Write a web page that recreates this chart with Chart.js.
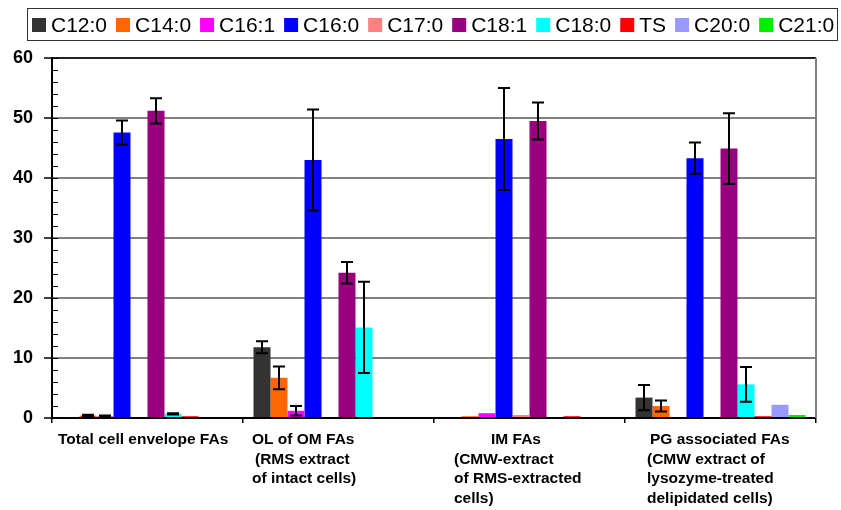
<!DOCTYPE html>
<html>
<head>
<meta charset="utf-8">
<title>Fatty acid composition</title>
<script src="https://cdn.jsdelivr.net/npm/chart.js@4.4.1/dist/chart.umd.min.js"></script>
<style>
  html, body { margin: 0; padding: 0; background: #fff; }
</style>
</head>
<body>
<canvas id="faChart" width="841" height="510"></canvas>
<script>
// categories (x groups), each one a list of label lines
const categories = [
  ["Total cell envelope FAs"],
  ["OL of OM FAs", "(RMS extract", "of intact cells)"],
  ["IM FAs", "(CMW-extract", "of RMS-extracted", "cells)"],
  ["PG associated FAs", "(CMW extract of", "lysozyme-treated", "delipidated cells)"]
];
const fattyAcids = ["C12:0", "C14:0", "C16:1", "C16:0", "C17:0", "C18:1", "C18:0", "TS", "C20:0", "C21:0"];

// values (%) per group
const c12_0 = [0.15, 11.8, 0, 3.4];
const c14_0 = [0.4, 6.7, 0.3, 2.0];
const c16_1 = [0.25, 1.2, 0.8, 0];
const c16_0 = [47.6, 43.0, 46.5, 43.3];
const c17_0 = [0, 0, 0.5, 0];
const c18_1 = [51.2, 24.2, 49.5, 44.9];
const c18_0 = [0.7, 15.1, 0, 5.6];
const ts    = [0.3, 0, 0.3, 0.3];
const c20_0 = [0, 0, 0, 2.2];
const c21_0 = [0, 0, 0, 0.5];

// error bars (+/-)
const c12_0Err = [0, 1.0, 0, 2.1];
const c14_0Err = [0.15, 1.9, 0, 0.9];
const c16_1Err = [0.15, 0.8, 0, 0];
const c16_0Err = [2.0, 8.4, 8.5, 2.6];
const c18_1Err = [2.1, 1.8, 3.1, 5.9];
const c18_0Err = [0.1, 7.6, 0, 2.9];
const noErr    = [0, 0, 0, 0];

const yTicks = [0, 10, 20, 30, 40, 50, 60];

// style
const barColors = ["#333333", "#ff6600", "#ff00ff", "#0000ff", "#ff8080", "#990080", "#00ffff", "#ff0000", "#9999ff", "#00ee00"];
const labelDx = [6, 9, 20, 22];               // label block left, from group edge
const lineIndent = [[0], [0, 3, 0], [37, 0, 0, 0], [3, 0, 0, 0]];
const FONT = '"Liberation Sans", Arial, sans-serif';

const seriesValues = [c12_0, c14_0, c16_1, c16_0, c17_0, c18_1, c18_0, ts, c20_0, c21_0];
const seriesErrors = [c12_0Err, c14_0Err, c16_1Err, c16_0Err, noErr, c18_1Err, c18_0Err, noErr, noErr, noErr];

const datasets = fattyAcids.map((name, i) => ({
  label: name,
  data: seriesValues[i],
  errors: seriesErrors[i],
  backgroundColor: barColors[i],
  borderWidth: 0,
  categoryPercentage: 0.89,
  barPercentage: 1.0
}));

// error bars drawn from the y scale
const errorBars = {
  id: "errorBars",
  afterDatasetsDraw(chart) {
    const ctx = chart.ctx;
    const ys = chart.scales.y;
    ctx.save();
    ctx.strokeStyle = "#000";
    ctx.lineWidth = 2;
    chart.data.datasets.forEach((ds, i) => {
      const meta = chart.getDatasetMeta(i);
      meta.data.forEach((bar, j) => {
        const e = ds.errors[j];
        if (!e) return;
        const v = ds.data[j];
        const top = ys.getPixelForValue(v + e);
        const bot = ys.getPixelForValue(Math.max(0, v - e));
        ctx.beginPath();
        ctx.moveTo(bar.x, top); ctx.lineTo(bar.x, bot);
        ctx.moveTo(bar.x - 6, top); ctx.lineTo(bar.x + 6, top);
        ctx.moveTo(bar.x - 6, bot); ctx.lineTo(bar.x + 6, bot);
        ctx.stroke();
      });
    });
    ctx.restore();
  }
};

// frame, minor ticks, category labels and boxed legend
const extras = {
  id: "extras",
  afterDraw(chart) {
    const ctx = chart.ctx;
    const area = chart.chartArea;
    const xs = chart.scales.x;
    const ys = chart.scales.y;
    ctx.save();

    // right border
    ctx.strokeStyle = "#808080";
    ctx.lineWidth = 2;
    ctx.beginPath();
    ctx.moveTo(area.right, area.top);
    ctx.lineTo(area.right, area.bottom);
    ctx.stroke();

    // inner ticks on the value axis
    ctx.strokeStyle = "#000";
    ctx.lineWidth = 1;
    for (let v = ys.min; v <= ys.max; v += 2) {
      const y = Math.round(ys.getPixelForValue(v)) + 0.5;
      ctx.beginPath();
      ctx.moveTo(area.left, y);
      ctx.lineTo(area.left + 6, y);
      ctx.stroke();
    }

    // category labels
    ctx.fillStyle = "#000";
    ctx.font = "bold 15.5px " + FONT;
    ctx.textAlign = "left";
    ctx.textBaseline = "middle";
    const half = (xs.getPixelForValue(1) - xs.getPixelForValue(0)) / 2;
    categories.forEach((lines, i) => {
      const left = xs.getPixelForValue(i) - half + labelDx[i];
      lines.forEach((t, k) => {
        ctx.fillText(t, left + lineIndent[i][k], area.bottom + 22 + k * 19.5);
      });
    });

    // legend
    ctx.font = "21px " + FONT;
    let x = 32;
    const yMid = 25;
    chart.data.datasets.forEach(ds => {
      ctx.fillStyle = ds.backgroundColor;
      ctx.fillRect(x, yMid - 7, 14, 14);
      ctx.fillStyle = "#000";
      ctx.fillText(ds.label, x + 19, yMid + 1);
      x += 14 + 5 + ctx.measureText(ds.label).width + 9;
    });
    ctx.strokeStyle = "#333";
    ctx.lineWidth = 1;
    ctx.strokeRect(27.5, 8.5, 810, 32);

    ctx.restore();
  }
};

new Chart(document.getElementById("faChart"), {
  type: "bar",
  data: { labels: categories, datasets },
  plugins: [errorBars, extras],
  options: {
    responsive: false,
    animation: false,
    layout: { padding: { top: 58, right: 25, left: 0, bottom: 0 } },
    plugins: {
      legend: { display: false },
      tooltip: { enabled: false }
    },
    scales: {
      x: {
        ticks: { display: false },
        grid: {
          offset: true,
          drawOnChartArea: false,
          color: "#000",
          lineWidth: 1.5,
          tickLength: 5
        },
        border: { color: "#000", width: 2 },
        afterFit(s) { s.height = 92; }
      },
      y: {
        min: 0,
        max: 60,
        afterBuildTicks(s) { s.ticks = yTicks.map(v => ({ value: v })); },
        ticks: {
          color: "#000",
          padding: 11,
          font: { family: FONT, size: 18, weight: "bold" }
        },
        grid: {
          color: c => (c.tick && c.tick.value === 60 ? "#222" : "#808080"),
          lineWidth: 2,
          tickColor: "#000",
          tickLength: 8,
          tickWidth: 1.5
        },
        border: { color: "#000", width: 2 },
        afterFit(s) { s.width = 52; }
      }
    }
  }
});
</script>
</body>
</html>
